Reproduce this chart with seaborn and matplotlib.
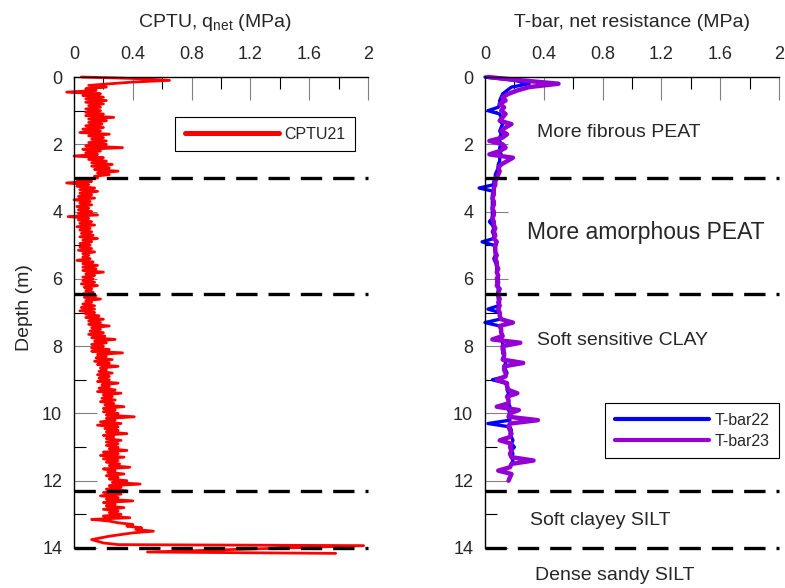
import numpy as np
import matplotlib
matplotlib.use("Agg")
import matplotlib.pyplot as plt
import seaborn as sns

# ---------------- data ----------------
cptu_depth_step = 0.05
cptu_main_vals = [
    # 0.00 - 0.95
    0.05, 0.45, 0.65, 0.40, 0.25, 0.10, 0.22, 0.08, 0.15, -0.05,
    0.18, 0.06, 0.20, 0.08, 0.22, 0.08, 0.20, 0.10, 0.18, 0.08,
    # 1.00 - 1.95
    0.18, 0.08, 0.20, 0.08, 0.27, 0.10, 0.22, 0.10, 0.19, 0.08,
    0.20, 0.06, 0.18, 0.04, 0.24, 0.10, 0.20, 0.12, 0.22, 0.10,
    # 2.00 - 2.95
    0.22, 0.08, 0.33, 0.06, 0.18, 0.08, 0.16, 0.00, 0.20, 0.10,
    0.22, 0.12, 0.26, 0.12, 0.24, 0.14, 0.30, 0.16, 0.24, 0.14,
    # 3.00 - 3.95
    0.16, 0.02, 0.12, -0.05, 0.10, 0.02, 0.14, 0.04, 0.16, 0.04,
    0.12, 0.03, 0.14, 0.00, 0.11, 0.04, 0.12, 0.02, 0.10, 0.03,
    # 4.00 - 4.95
    0.12, 0.03, 0.16, -0.04, 0.10, 0.03, 0.12, 0.04, 0.14, 0.02,
    0.11, 0.04, 0.12, 0.05, 0.13, 0.04, 0.16, 0.06, 0.12, 0.04,
    # 5.00 - 5.95
    0.11, 0.04, 0.12, 0.03, 0.14, 0.06, 0.10, 0.06, 0.11, 0.02,
    0.13, 0.06, 0.16, 0.06, 0.15, 0.06, 0.20, 0.08, 0.14, 0.06,
    # 6.00 - 6.95
    0.13, 0.06, 0.14, 0.05, 0.16, 0.07, 0.12, 0.08, 0.13, 0.06,
    0.15, 0.07, 0.18, 0.08, 0.12, 0.06, 0.14, 0.05, 0.14, 0.04,
    # 7.00 - 7.95
    0.14, 0.08, 0.17, 0.08, 0.20, 0.10, 0.18, 0.10, 0.24, 0.12,
    0.18, 0.11, 0.20, 0.10, 0.21, 0.12, 0.28, 0.14, 0.22, 0.12,
    # 8.00 - 8.95
    0.20, 0.12, 0.24, 0.12, 0.33, 0.16, 0.22, 0.15, 0.26, 0.14,
    0.24, 0.16, 0.30, 0.18, 0.22, 0.17, 0.26, 0.16, 0.24, 0.17,
    # 9.00 - 9.95
    0.24, 0.16, 0.30, 0.19, 0.24, 0.17, 0.28, 0.16, 0.32, 0.20,
    0.26, 0.19, 0.28, 0.18, 0.27, 0.21, 0.34, 0.20, 0.28, 0.20,
    # 10.00 - 10.95
    0.30, 0.22, 0.41, 0.22, 0.28, 0.18, 0.32, 0.16, 0.30, 0.21,
    0.30, 0.22, 0.36, 0.20, 0.27, 0.22, 0.32, 0.22, 0.30, 0.22,
    # 11.00 - 11.95
    0.30, 0.24, 0.36, 0.20, 0.30, 0.18, 0.34, 0.20, 0.30, 0.22,
    0.31, 0.24, 0.38, 0.20, 0.28, 0.23, 0.34, 0.22, 0.30, 0.24,
    # 12.00 - 12.95
    0.36, 0.26, 0.45, 0.24, 0.32, 0.22, 0.36, 0.20, 0.32, 0.18,
    0.30, 0.22, 0.40, 0.20, 0.28, 0.22, 0.34, 0.20, 0.30, 0.24,
    # 13.00 - 13.90
    0.32, 0.20, 0.38, 0.12, 0.24, 0.30, 0.40, 0.36, 0.46, 0.42,
    0.54, 0.40, 0.32, 0.24, 0.18, 0.12, 0.16, 0.20, 0.30,
]
cptu_tail_depth = [13.93, 14.12, 14.16]
cptu_tail_vals = [1.97, 0.50, 1.78]

tbar23_vals = [
    0.02, 0.25, 0.50, 0.30, 0.22, 0.16, 0.12, 0.14, 0.10, 0.13,
    0.11, 0.14, 0.12, 0.10, 0.18, 0.14, 0.11, 0.15, 0.12, 0.03,
    0.12, 0.14, 0.10, 0.03, 0.19, 0.15, 0.11, 0.09, 0.10, 0.09,
    0.08, 0.07, 0.07, 0.06, 0.06, 0.06, 0.05, 0.06, 0.06, 0.05,
    0.06, 0.06, 0.05, 0.06, 0.06, 0.07, 0.06, 0.07, 0.06, 0.08,
    0.07, 0.07, 0.07, 0.08, 0.07, 0.08, 0.08, 0.09, 0.08, 0.09,
    0.08, 0.09, 0.08, 0.10, 0.09, 0.09, 0.10, 0.09, 0.10, 0.09,
    0.10, 0.10, 0.11, 0.19, 0.10, 0.11, 0.11, 0.12, 0.05, 0.24,
    0.12, 0.12, 0.13, 0.13, 0.12, 0.26, 0.13, 0.13, 0.14, 0.14,
    0.08, 0.15, 0.15, 0.16, 0.22, 0.15, 0.16, 0.16, 0.08, 0.23,
    0.17, 0.16, 0.36, 0.17, 0.16, 0.17, 0.18, 0.17, 0.10, 0.18,
    0.17, 0.18, 0.17, 0.18, 0.33, 0.18, 0.17, 0.09, 0.18, 0.17,
    0.16,
]
tbar22_vals = [
    0.00, 0.20, 0.30, 0.18, 0.15, 0.12, 0.11, 0.10, 0.10, 0.09,
    0.02, 0.10, 0.11, 0.10, 0.12, 0.11, 0.10, 0.11, 0.10, 0.10,
    0.11, 0.10, 0.10, 0.11, 0.10, 0.10, 0.09, 0.09, 0.08, 0.07,
    0.07, 0.06, 0.06, -0.04, 0.06, 0.05, 0.05, 0.05, 0.05, 0.05,
    0.05, 0.05, 0.05, 0.03, 0.05, 0.06, 0.05, 0.06, 0.06, -0.02,
    0.06, 0.07, 0.07, 0.07, 0.06, 0.07, 0.08, 0.08, 0.08, 0.09,
    0.09, 0.08, 0.09, 0.09, 0.09, 0.09, 0.09, 0.10, 0.09, 0.02,
    0.10, 0.10, 0.10, 0.00, 0.10, 0.11, 0.11, 0.12, 0.11, 0.12,
    0.12, 0.13, 0.12, 0.13, 0.13, 0.14, 0.13, 0.14, 0.15, 0.14,
    0.05, 0.14, 0.15, 0.15, 0.16, 0.15, 0.16, 0.16, 0.17, 0.16,
    0.17, 0.16, 0.17, 0.02, 0.17, 0.18, 0.17, 0.18, 0.19, 0.18,
    0.20, 0.18, 0.19, 0.18, 0.19, 0.18,
]
tbar_depth_step = 0.1

layer_bounds = [3.0, 6.45, 12.3, 14.0]
layer_names = ["More fibrous PEAT", "More amorphous PEAT", "Soft sensitive CLAY",
               "Soft clayey SILT", "Dense sandy SILT"]
layer_text_depth = [1.66, 4.61, 7.84, 13.19, 14.83]
layer_text_x = [0.354, 0.286, 0.354, 0.306, 0.34]
layer_text_size = [14, 16.5, 14, 14, 14]

x_ticks = [0, 0.4, 0.8, 1.2, 1.6, 2.0]
x_tick_labels = ["0", "0.4", "0.8", "1.2", "1.6", "2"]
y_ticks = [0, 2, 4, 6, 8, 10, 12, 14]
y_minor = [1, 3, 5, 7, 9, 11, 13]
x_minor = [0.2, 0.6, 1.0, 1.4, 1.8]

cptu_depth = list(np.round(np.arange(len(cptu_main_vals)) * cptu_depth_step, 3)) + cptu_tail_depth
cptu_vals = cptu_main_vals + cptu_tail_vals
tbar23_depth = np.round(np.arange(len(tbar23_vals)) * tbar_depth_step, 2)
tbar22_depth = np.round(np.arange(len(tbar22_vals)) * tbar_depth_step, 2)

# ---------------- style ----------------
sns.set_style("white")
plt.rcParams['font.family'] = ['Liberation Sans', 'DejaVu Sans']
plt.rcParams['mathtext.fontset'] = 'custom'
plt.rcParams['mathtext.rm'] = 'Liberation Sans'
plt.rcParams['mathtext.it'] = 'Liberation Sans:italic'

fig = plt.figure(figsize=(7.85, 5.88), dpi=100)
W, H = 785, 588
ax1 = fig.add_axes([74 / W, 1 - 548 / H, 294 / W, 471 / H])
ax2 = fig.add_axes([485 / W, 1 - 548 / H, 294 / W, 471 / H])


def style(ax):
    ax.set_xlim(0, 2)
    ax.set_ylim(14, 0)
    ax.set_xticks(x_ticks)
    ax.set_xticklabels(x_tick_labels)
    ax.set_xticks(x_minor, minor=True)
    ax.set_yticks(y_ticks)
    ax.set_yticklabels([str(v) for v in y_ticks])
    ax.set_yticks(y_minor, minor=True)
    ax.tick_params(which='both', top=True, labeltop=True, bottom=False,
                   labelbottom=False, left=True, right=False, direction='in')
    ax.tick_params(axis='x', which='major', length=16.5, width=0.8,
                   color='#808080', labelsize=13, pad=10)
    ax.tick_params(axis='y', which='major', length=16.5, width=0.8,
                   color='#808080', labelsize=13, pad=8.5)
    ax.tick_params(which='minor', length=8.5, width=0.8, color='black')
    for s in ['right', 'bottom']:
        ax.spines[s].set_visible(False)
    for s in ['left', 'top']:
        ax.spines[s].set_color('black')
        ax.spines[s].set_linewidth(1.0)
    ax.set_xlabel("")
    ax.set_ylabel("")
    for b in layer_bounds:
        ax.axhline(b, color='black', lw=2.4, dashes=(6.4, 3.3), zorder=4,
                   clip_on=False)


# left panel
sns.lineplot(x=cptu_vals, y=cptu_depth, sort=False, estimator=None,
             color='#ff0000', lw=2.0, label='CPTU21', ax=ax1, clip_on=False)
style(ax1)
ax1.text(0.48, 1.106, r"CPTU, q$_{\rm net}$ (MPa)", transform=ax1.transAxes,
         ha='center', va='baseline', fontsize=14)
ax1.set_ylabel("Depth (m)", fontsize=14)
ax1.yaxis.set_label_coords(-0.14, 0.51)
leg1 = ax1.legend(loc='upper right', bbox_to_anchor=(0.956, 0.915),
                  borderaxespad=0, frameon=True, fancybox=False,
                  edgecolor='black', framealpha=1, fontsize=11.5,
                  handlelength=5.9, handletextpad=0.35, borderpad=0.6,
                  labelspacing=0.4)
leg1.get_frame().set_linewidth(0.8)
for l in leg1.get_lines():
    l.set_linewidth(3.6)

# right panel
sns.lineplot(x=tbar22_vals, y=tbar22_depth, sort=False, estimator=None,
             color='#0000ff', lw=2.4, label='T-bar22', ax=ax2, clip_on=False)
sns.lineplot(x=tbar23_vals, y=tbar23_depth, sort=False, estimator=None,
             color='#9400d3', lw=3.2, label='T-bar23', ax=ax2, clip_on=False)
style(ax2)
ax2.text(0.5, 1.106, "T-bar, net resistance (MPa)", transform=ax2.transAxes,
         ha='center', va='baseline', fontsize=14)
leg2 = ax2.legend(loc='upper right', bbox_to_anchor=(1.0, 0.308),
                  borderaxespad=0, frameon=True, fancybox=False,
                  edgecolor='black', framealpha=1, fontsize=11.5,
                  handlelength=5.9, handletextpad=0.35, borderpad=0.6,
                  labelspacing=0.4)
leg2.get_frame().set_linewidth(0.8)
for l in leg2.get_lines():
    l.set_linewidth(3.0)

for name, d, x, fs in zip(layer_names, layer_text_depth, layer_text_x, layer_text_size):
    ax2.text(x, d, name, ha='left', va='center', fontsize=fs, clip_on=False)

fig.savefig("out.png", dpi=100)
